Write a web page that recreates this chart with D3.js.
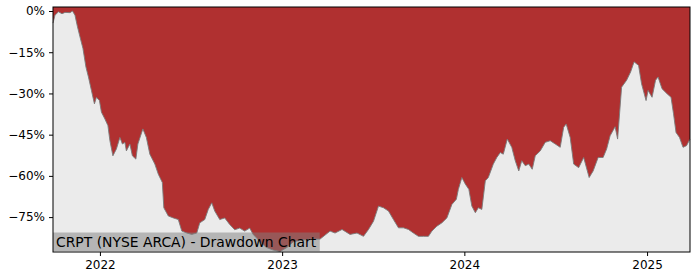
<!DOCTYPE html>
<html>
<head>
<meta charset="utf-8">
<script src="https://cdn.jsdelivr.net/npm/d3@7"></script>
<style>
  body { margin: 0; background: #fff; }
  svg text { font-family: "DejaVu Sans", sans-serif; }
</style>
</head>
<body>
<div id="chart"></div>
<script>
// 日期 (x 軸)
const dates = [
    "2021-09-29", "2021-10-03", "2021-10-10", "2021-10-17", "2021-10-23", "2021-11-02",
    "2021-11-07", "2021-11-12", "2021-11-17", "2021-11-22", "2021-11-28", "2021-12-04",
    "2021-12-09", "2021-12-15", "2021-12-21", "2021-12-25", "2021-12-31", "2022-01-04",
    "2022-01-11", "2022-01-17", "2022-01-21", "2022-01-27", "2022-02-03", "2022-02-10",
    "2022-02-15", "2022-02-20", "2022-02-23", "2022-03-02", "2022-03-07", "2022-03-14",
    "2022-03-18", "2022-03-28", "2022-04-04", "2022-04-11", "2022-04-21", "2022-04-28",
    "2022-05-06", "2022-05-09", "2022-05-18", "2022-05-28", "2022-06-07", "2022-06-14",
    "2022-06-24", "2022-07-04", "2022-07-14", "2022-07-20", "2022-07-30", "2022-08-06",
    "2022-08-13", "2022-08-19", "2022-08-29", "2022-09-08", "2022-09-18", "2022-09-28",
    "2022-10-08", "2022-10-18", "2022-10-28", "2022-11-04", "2022-11-18", "2022-11-30",
    "2022-12-14", "2022-12-28", "2023-01-11", "2023-01-23", "2023-02-06", "2023-02-26",
    "2023-03-18", "2023-04-07", "2023-04-17", "2023-05-01", "2023-05-17", "2023-05-31",
    "2023-06-13", "2023-06-23", "2023-07-03", "2023-07-13", "2023-07-23", "2023-08-02",
    "2023-08-12", "2023-08-22", "2023-09-01", "2023-09-11", "2023-09-21", "2023-10-01",
    "2023-10-11", "2023-10-21", "2023-10-28", "2023-11-07", "2023-11-17", "2023-11-27",
    "2023-12-07", "2023-12-16", "2023-12-20", "2023-12-27", "2024-01-03", "2024-01-10",
    "2024-01-16", "2024-01-23", "2024-01-29", "2024-02-05", "2024-02-12", "2024-02-18",
    "2024-02-28", "2024-03-06", "2024-03-13", "2024-03-19", "2024-03-27", "2024-04-05",
    "2024-04-12", "2024-04-19", "2024-04-25", "2024-05-02", "2024-05-09", "2024-05-16",
    "2024-05-22", "2024-06-01", "2024-06-11", "2024-06-21", "2024-07-01", "2024-07-11",
    "2024-07-18", "2024-07-23", "2024-07-31", "2024-08-07", "2024-08-17", "2024-08-27",
    "2024-09-07", "2024-09-15", "2024-09-25", "2024-10-05", "2024-10-12", "2024-10-19",
    "2024-10-29", "2024-11-03", "2024-11-11", "2024-11-21", "2024-11-29", "2024-12-06",
    "2024-12-15", "2024-12-21", "2024-12-30", "2025-01-03", "2025-01-11", "2025-01-18",
    "2025-01-23", "2025-01-31", "2025-02-10", "2025-02-18", "2025-02-23", "2025-02-28",
    "2025-03-07", "2025-03-14", "2025-03-21", "2025-03-28"
];

// 回撤 (%)
const drawdown = [
    -4.4, -1.5, -0.3, -1.0, -0.5, -0.6,
    0.0, -1.5, -5.7, -9.4, -13.6, -20.4,
    -24.0, -28.9, -33.8, -31.4, -32.6, -36.8,
    -39.3, -41.7, -47.2, -52.7, -50.2, -46.0,
    -48.4, -47.8, -50.9, -48.4, -52.7, -53.9,
    -48.4, -42.9, -46.0, -52.1, -55.7, -59.4,
    -62.4, -71.6, -74.6, -75.3, -75.9, -80.1,
    -80.8, -81.3, -80.8, -77.1, -75.9, -72.2,
    -69.8, -72.8, -75.9, -75.3, -77.7, -79.6,
    -79.0, -80.1, -79.0, -81.3, -84.0, -86.0,
    -87.0, -87.5, -86.0, -84.0, -83.5, -83.0,
    -83.0, -80.1, -80.8, -79.5, -81.3, -80.8,
    -82.0, -79.5, -76.5, -71.0, -71.6, -72.8,
    -75.9, -78.9, -78.9, -79.5, -80.8, -82.0,
    -82.0, -82.0, -80.1, -78.3, -77.1, -75.3,
    -70.4, -68.5, -64.9, -60.6, -63.0, -64.9,
    -71.0, -73.4, -71.6, -72.2, -61.8, -60.6,
    -55.7, -53.3, -51.5, -52.1, -46.6, -49.6,
    -54.5, -58.2, -54.5, -56.3, -55.7, -57.6,
    -52.7, -50.9, -47.8, -47.2, -48.4, -49.6,
    -42.3, -41.1, -46.0, -55.7, -57.0, -53.3,
    -60.6, -58.2, -53.3, -53.3, -50.2, -45.4,
    -42.1, -46.6, -27.7, -25.2, -22.2, -18.5,
    -19.8, -26.5, -32.6, -28.9, -31.4, -25.2,
    -24.0, -28.3, -30.1, -31.4, -37.4, -44.2,
    -46.0, -49.6, -49.0, -46.6
];

// Y 軸刻度
const yTicks = [0, -15, -30, -45, -60, -75];
// X 軸刻度 (年份)
const xTickYears = [2022, 2023, 2024, 2025];
const title = "CRPT (NYSE ARCA) - Drawdown Chart";

const parse = d3.timeParse("%Y-%m-%d");
const data = dates.map((d, i) => ({ date: parse(d), value: drawdown[i] }));

const W = 700, H = 280;
const margin = { top: 7, right: 10, bottom: 28, left: 53 };
const width = W - margin.left - margin.right;
const height = H - margin.top - margin.bottom;

const svg = d3.select("#chart")
    .append("svg")
    .attr("width", W)
    .attr("height", H)
    .append("g")
    .attr("transform", `translate(${margin.left},${margin.top})`);

const xScale = d3.scaleTime()
    .domain(d3.extent(data, d => d.date))
    .range([0, width]);

const yScale = d3.scaleLinear()
    .domain([-87.7, 1.46])
    .range([height, 0]);

// 背景
svg.append("rect")
    .attr("width", width)
    .attr("height", height)
    .attr("fill", "#ebebeb");

// 回撤區域 (紅色)
svg.append("path")
    .datum(data)
    .attr("fill", "#b03030")
    .attr("d", d3.area()
        .x(d => xScale(d.date))
        .y0(0)
        .y1(d => yScale(d.value))
    );

// 邊界線
svg.append("path")
    .datum(data)
    .attr("fill", "none")
    .attr("stroke", "#7a7a7a")
    .attr("stroke-width", 0.9)
    .attr("d", d3.line()
        .x(d => xScale(d.date))
        .y(d => yScale(d.value))
    );

// 標題框
const titleG = svg.append("g");
const titleText = titleG.append("text")
    .attr("x", 3)
    .attr("y", height - 5)
    .attr("font-size", 13.9)
    .attr("fill", "#000")
    .text(title);
const bb = titleText.node().getBBox();
titleG.insert("rect", "text")
    .attr("x", 0)
    .attr("y", height - 19.5)
    .attr("width", bb.width + 6)
    .attr("height", 18.5)
    .attr("fill", "#808080")
    .attr("fill-opacity", 0.5);

// X 軸
const xAxis = svg.append("g")
    .attr("transform", `translate(0, ${height})`)
    .call(d3.axisBottom(xScale)
        .tickValues(xTickYears.map(y => new Date(y, 0, 1)))
        .tickFormat(d3.timeFormat("%Y"))
        .tickSizeOuter(0)
        .tickSize(4)
        .tickPadding(4));

// Y 軸
const yAxis = svg.append("g")
    .call(d3.axisLeft(yScale)
        .tickValues(yTicks)
        .tickFormat(d => (d < 0 ? "\u2212" + Math.abs(d) : d) + "%")
        .tickSizeOuter(0)
        .tickSize(4)
        .tickPadding(4));

[xAxis, yAxis].forEach(a => {
    a.selectAll("text").attr("font-size", 12).attr("fill", "#000").style("font-family", "DejaVu Sans");
    a.selectAll("line").attr("stroke", "#000");
    a.select(".domain").remove();
});

// 外框
svg.append("rect")
    .attr("width", width)
    .attr("height", height)
    .attr("fill", "none")
    .attr("stroke", "#000")
    .attr("stroke-width", 1);
</script>
</body>
</html>
